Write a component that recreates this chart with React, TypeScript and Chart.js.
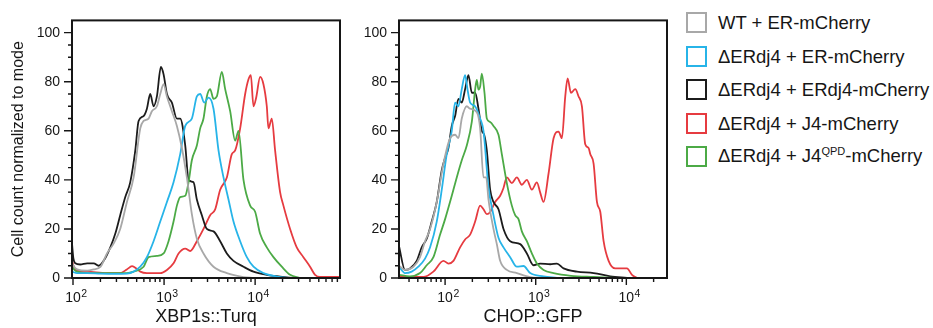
import React, { useEffect, useRef } from "react";
import { Chart, registerables } from "chart.js";

Chart.register(...registerables);

type Pt = [number, number];

// ---------- Series names (legend order) ----------
const seriesNames = [
  "WT + ER-mCherry",
  "ΔERdj4 + ER-mCherry",
  "ΔERdj4 + ERdj4-mCherry",
  "ΔERdj4 + J4-mCherry",
  "ΔERdj4 + J4^QPD^-mCherry",
];
const seriesColors = ["#a8a8a8", "#27b4e8", "#1c1c1c", "#e63b40", "#4caa46"];

// ---------- Left panel: XBP1s::Turq ----------
const xbpWT: Pt[] = [
  [97.5, 6], [106, 4], [111, 3.5], [143, 3], [169, 3.5], [200, 4.5], [236, 10], [279, 14], [330, 20],
  [391, 31], [463, 41], [548, 61], [596, 64], [676, 65], [735, 68], [834, 70], [908, 75], [988, 79],
  [1075, 74], [1218, 68], [1383, 62], [1570, 53], [1780, 41], [2019, 26], [2291, 16], [2711, 10],
  [3491, 4.6], [4889, 2], [7450, 0.4], [9594, 0],
];
const xbpEmpty: Pt[] = [
  [97.5, 2.6], [111, 2], [143, 2], [200, 1.8], [279, 1.7], [391, 1.8], [463, 2.6], [548, 4.6], [648, 8.5],
  [767, 15], [908, 23], [1075, 31], [1271, 39], [1504, 50.5], [1708, 62], [2019, 65], [2291, 74],
  [2493, 75], [2758, 71.5], [3077, 73.5], [3491, 69], [3962, 52], [4494, 41], [5100, 32], [5786, 23],
  [6849, 15], [8106, 8.5], [9594, 4.6], [12340, 2], [17280, 0.6], [24210, 0],
];
const xbpERdj4: Pt[] = [
  [97.5, 14], [101, 8], [106, 6], [120, 5.5], [143, 6], [169, 6], [191, 5], [217, 7], [257, 12.5],
  [291, 18], [330, 25.6], [375, 33], [425, 39], [483, 52], [525, 64], [596, 66], [648, 69], [705, 75],
  [767, 70], [834, 74], [923, 86], [988, 83], [1075, 75], [1218, 71.5], [1383, 65], [1504, 65],
  [1708, 54], [1857, 40], [2106, 39], [2291, 32], [2600, 25.6], [2950, 20], [3491, 19], [4131, 15],
  [4889, 10], [5786, 7], [7450, 4.6], [9594, 2.6], [13430, 1.3], [18800, 0.6], [26330, 0],
];
const xbpJ4: Pt[] = [
  [97.5, 7], [106, 3.3], [143, 2.6], [236, 2], [330, 2], [390, 3.5], [445, 4.8], [500, 3.8], [548, 2.6],
  [648, 2], [908, 2], [1075, 3.3], [1271, 6], [1442, 10], [1708, 12], [1936, 11], [2291, 15],
  [2711, 20], [3209, 25.6], [3640, 28], [4131, 36], [4889, 41], [5548, 50.5], [6036, 52], [6849, 61],
  [7771, 75], [8455, 81], [8966, 82.7], [9594, 70], [10260, 73.5], [11350, 82], [12340, 79],
  [13430, 70], [14000, 61], [15230, 65], [16570, 52], [18800, 35], [20450, 29.5], [24210, 20],
  [28640, 12.5], [33890, 8.5], [40100, 4.6], [45500, 1.3], [51620, 0.4], [85500, 0.4],
];
const xbpQPD: Pt[] = [
  [97.5, 4.6], [106, 3], [111, 2.6], [143, 2], [257, 2], [391, 2], [463, 2.6], [596, 4.6], [676, 8.5],
  [834, 9], [988, 10], [1120, 15], [1271, 23], [1383, 29.5], [1504, 33], [1708, 33.5], [1857, 39],
  [2019, 48], [2291, 54], [2493, 61], [2711, 65], [2950, 74], [3209, 77], [3491, 73], [3798, 74],
  [4309, 84], [4688, 77], [5319, 68], [6036, 56], [6566, 60], [7450, 40], [8819, 29.5], [10000, 27],
  [11350, 18], [13430, 12.5], [15890, 8.5], [19610, 4.6], [24210, 1.3], [31150, 0],
];

// ---------- Right panel: CHOP::GFP ----------
const chopWT: Pt[] = [
  [31, 5], [36.1, 3.3], [44.7, 4.6], [52.9, 8.5], [60.1, 15], [68.3, 20], [80.9, 31], [95.9, 46.6],
  [113.5, 57], [128.9, 58.4], [140.3, 57], [152.8, 65], [173.5, 70], [188.9, 69], [223.8, 67.6],
  [243.6, 61], [265.2, 41], [284, 41], [301.1, 32], [341.9, 20], [372.2, 13.8], [405.1, 7], [480, 3.3],
  [619, 2], [869, 0.4], [1220, 0],
];
const chopEmpty: Pt[] = [
  [31, 4.6], [36.1, 2], [42.8, 2.6], [50.7, 4.6], [60.1, 7.9], [68.3, 12.5], [80.9, 23], [91.9, 36],
  [104.3, 50.5], [118.5, 60], [128.9, 71.5], [140.3, 70], [152.8, 77], [166.3, 82.7], [176.5, 77],
  [188.9, 71.5], [214.5, 70], [243.6, 65], [265.2, 60], [301.1, 37], [341.9, 25.6], [388.3, 16.4],
  [441, 12.5], [522.5, 8.5], [619, 4.6], [733.4, 4.9], [869, 2], [1220, 0.7], [1713, 0],
];
const chopERdj4: Pt[] = [
  [31, 13], [36.1, 3.3], [41, 3.9], [48.6, 7], [55.2, 12.5], [62.7, 16], [71.2, 23], [80.9, 31],
  [91.9, 44], [100, 49], [108.8, 53], [118.5, 62], [128.9, 66], [140.3, 73], [152.8, 71.5],
  [166.3, 77], [181, 82.7], [197.1, 75.5], [214.5, 75.5], [233.5, 69], [254.2, 60], [269.8, 58.4],
  [288.6, 52], [314.1, 36], [341.9, 31], [388.3, 28], [441, 20], [522.5, 15], [673.8, 13.8],
  [798.3, 10], [945.9, 5.2], [1121, 5.9], [1446, 5.6], [1713, 5.9], [2030, 3.9], [2849, 2.6],
  [4352, 2], [6650, 0.7], [10160, 0],
];
const chopJ4: Pt[] = [
  [31, 0.4], [57.6, 0.4], [74.3, 2.6], [95.9, 7], [108.8, 5.9], [123.6, 7], [146.4, 12.5],
  [166.3, 15.7], [188.9, 17.7], [214.5, 23], [243.6, 29.5], [265.2, 28], [288.6, 26], [314.1, 26.9],
  [356.7, 31], [405.1, 33.5], [441, 36.7], [480, 41], [545.1, 38.7], [619, 41], [703, 38], [798, 40],
  [907, 36], [1030, 39], [1121, 34.8], [1220, 31], [1386, 42.6], [1574, 57], [1787, 59.7], [1945, 57],
  [2118, 74], [2248, 81.4], [2448, 75.5], [2731, 77], [2972, 74], [3235, 70], [3521, 54.5],
  [3833, 53], [3998, 50.5], [4352, 46.6], [4737, 31], [5156, 27], [5612, 15], [6374, 7], [7553, 3.9],
  [10160, 3.9], [11550, 1.3], [13130, 0],
];
const chopQPD: Pt[] = [
  [31, 1.3], [41, 0.7], [52.9, 2], [62.7, 5.2], [74.3, 8.5], [88.1, 17.7], [100, 24], [118.5, 33.5],
  [134.5, 41], [152.8, 48], [173.5, 54], [197.1, 63.6], [214.5, 76.8], [223.8, 80.7], [233.5, 76.8],
  [243.6, 78], [254.2, 83.3], [272.1, 75.5], [288.6, 65], [314.1, 63.6], [341.9, 62], [388.3, 58.4],
  [422.7, 50.5], [480, 38.7], [545.1, 29.5], [593.3, 25.6], [645.8, 24], [703, 19], [798.3, 15],
  [906.7, 10], [1030, 5.9], [1220, 3.3], [1574, 2], [2448, 0.9], [4352, 0.4], [7553, 0],
];

// ---------- Axes ----------
const yTicks = [0, 20, 40, 60, 80, 100];
const xTicks = [100, 1000, 10000];
const xTickBase = "10";
const xTickExponents = ["2", "3", "4"];
const yTitle = "Cell count normalized to mode";
const leftXTitle = "XBP1s::Turq";
const rightXTitle = "CHOP::GFP";

const FONT = "'Liberation Sans', Arial, Helvetica, sans-serif";
const INK = "#161616";
const TICK_SIZE = 14;
const X_TICK_PAD = 12;

const framePlugin = {
  id: "frameTicks",
  afterDraw(chart: any) {
    const { ctx, chartArea: a, scales } = chart;
    const xs = scales.x;
    const ys = scales.y;
    ctx.save();
    ctx.strokeStyle = INK;
    ctx.lineWidth = 1.4;
    ctx.beginPath();
    for (let v = 0; v <= 100; v += 5) {
      const py = ys.getPixelForValue(v);
      const len = v % 20 === 0 ? 8 : 4;
      ctx.moveTo(a.left - len, py);
      ctx.lineTo(a.left, py);
    }
    const lo = Math.floor(Math.log10(xs.min));
    const hi = Math.ceil(Math.log10(xs.max));
    for (let d = lo; d <= hi; d++) {
      for (let m = 1; m <= 9; m++) {
        const v = m * Math.pow(10, d);
        if (v < xs.min || v > xs.max) continue;
        const px = xs.getPixelForValue(v);
        const len = m === 1 ? 7 : 4;
        ctx.moveTo(px, a.bottom);
        ctx.lineTo(px, a.bottom + len);
      }
    }
    ctx.stroke();
    ctx.lineWidth = 2;
    ctx.strokeRect(a.left, a.top, a.right - a.left, a.bottom - a.top);

    // exponents of the decade tick labels
    ctx.font = `${TICK_SIZE}px ${FONT}`;
    const baseW = ctx.measureText(xTickBase).width;
    const labelMid = xs.top + X_TICK_PAD + (TICK_SIZE * 1.2) / 2;
    ctx.font = `10.5px ${FONT}`;
    ctx.fillStyle = INK;
    ctx.textAlign = "left";
    ctx.textBaseline = "middle";
    xTicks.forEach((v, i) => {
      if (v < xs.min || v > xs.max) return;
      const px = xs.getPixelForValue(v);
      ctx.fillText(xTickExponents[i], px + baseW / 2 + 0.5, labelMid - 4.5);
    });
    ctx.restore();
  },
};

type PanelProps = {
  series: Pt[][];
  xMin: number;
  xMax: number;
  xTitle: string;
  showYTitle: boolean;
  yAxisWidth: number;
  padRight: number;
  width: number;
  left: number;
};

// draw order: gray, blue, green, black, red
const drawOrder = [0, 1, 4, 2, 3];

function Panel(p: PanelProps) {
  const ref = useRef<HTMLCanvasElement | null>(null);
  useEffect(() => {
    if (!ref.current) return;
    const chart = new Chart(ref.current, {
      type: "line",
      data: {
        datasets: drawOrder.map((i) => ({
          label: seriesNames[i].replace(/\^/g, ""),
          data: p.series[i].map(([x, y]) => ({ x, y })),
          borderColor: seriesColors[i],
          backgroundColor: seriesColors[i],
          borderWidth: 1.8,
          pointRadius: 0,
          fill: false,
          cubicInterpolationMode: "monotone",
        })),
      },
      options: {
        responsive: false,
        maintainAspectRatio: false,
        animation: false,
        layout: { padding: { top: 12, right: p.padRight, left: 0, bottom: 0 } },
        plugins: { legend: { display: false }, tooltip: { enabled: false } },
        scales: {
          x: {
            type: "logarithmic",
            min: p.xMin,
            max: p.xMax,
            afterFit: (s: any) => {
              s.height = 50;
            },
            afterBuildTicks: (s: any) => {
              s.ticks = xTicks.filter((v) => v >= p.xMin && v <= p.xMax).map((v) => ({ value: v }));
            },
            ticks: {
              autoSkip: false,
              maxRotation: 0,
              padding: X_TICK_PAD,
              color: INK,
              font: { family: FONT, size: TICK_SIZE },
              callback: (v: any) => (xTicks.indexOf(Number(v)) >= 0 ? xTickBase : ""),
            },
            grid: { display: false, drawTicks: false },
            border: { display: false },
            title: {
              display: true,
              text: p.xTitle,
              color: INK,
              font: { family: FONT, size: 18 },
              padding: 0,
            },
          },
          y: {
            type: "linear",
            min: 0,
            max: 105,
            afterFit: (s: any) => {
              s.width = p.yAxisWidth;
            },
            afterBuildTicks: (s: any) => {
              s.ticks = yTicks.map((v) => ({ value: v }));
            },
            ticks: {
              padding: 12,
              color: INK,
              font: { family: FONT, size: TICK_SIZE },
            },
            grid: { display: false, drawTicks: false },
            border: { display: false },
            title: {
              display: p.showYTitle,
              text: yTitle,
              color: INK,
              font: { family: FONT, size: 16 },
              padding: { top: 9, bottom: 0 },
            },
          },
        },
      },
      plugins: [framePlugin],
    } as any);
    return () => chart.destroy();
  }, []);
  return (
    <canvas
      ref={ref}
      width={p.width}
      height={328}
      style={{ position: "absolute", left: p.left, top: 0, width: p.width, height: 328, display: "block" }}
    />
  );
}

function LegendLabel({ text }: { text: string }) {
  const parts = text.split("^");
  return (
    <span style={{ fontFamily: FONT, fontSize: 18.5, color: INK, whiteSpace: "nowrap", lineHeight: "21px" }}>
      {parts.map((t, i) =>
        i % 2 === 1 ? (
          <span key={i} style={{ fontSize: 11, position: "relative", top: -7 }}>
            {t}
          </span>
        ) : (
          <span key={i}>{t}</span>
        )
      )}
    </span>
  );
}

export default function App() {
  return (
    <div style={{ position: "absolute", left: 0, top: 0, width: 933, height: 328, background: "#fff", overflow: "hidden" }}>
      <Panel
        series={[xbpWT, xbpEmpty, xbpERdj4, xbpJ4, xbpQPD]}
        xMin={97.5}
        xMax={85500}
        xTitle={leftXTitle}
        showYTitle={true}
        yAxisWidth={72}
        padRight={5}
        width={345}
        left={0}
      />
      <Panel
        series={[chopWT, chopEmpty, chopERdj4, chopJ4, chopQPD]}
        xMin={31}
        xMax={28100}
        xTitle={rightXTitle}
        showYTitle={false}
        yAxisWidth={54}
        padRight={8}
        width={330}
        left={345}
      />
      <div style={{ position: "absolute", left: 686, top: 0 }}>
        {seriesNames.map((name, i) => (
          <div
            key={i}
            style={{
              position: "absolute",
              left: 0,
              top: 12 + i * 33.5,
              height: 21,
              display: "flex",
              alignItems: "center",
            }}
          >
            <span
              style={{
                width: 21,
                height: 21,
                boxSizing: "border-box",
                border: `2px solid ${seriesColors[i]}`,
                display: "inline-block",
                flex: "none",
              }}
            />
            <span style={{ marginLeft: 11 }}>
              <LegendLabel text={name} />
            </span>
          </div>
        ))}
      </div>
    </div>
  );
}
